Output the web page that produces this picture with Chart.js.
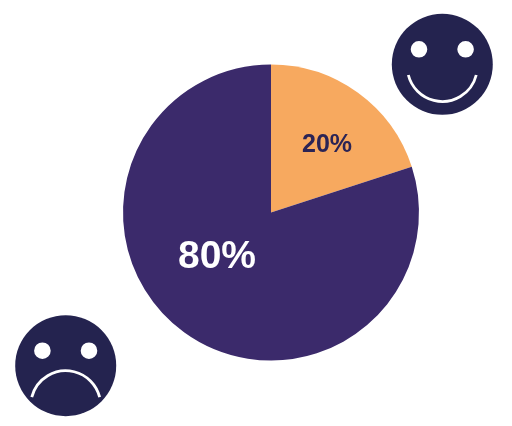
<!DOCTYPE html>
<html>
<head>
<meta charset="utf-8">
<title>Pie</title>
<style>
  html, body { margin: 0; padding: 0; background: #fff; }
  canvas { display: block; }
</style>
<script src="https://cdn.jsdelivr.net/npm/chart.js@4/dist/chart.umd.min.js"></script>
</head>
<body>
<canvas id="chart-pie" width="512" height="426"></canvas>
<script>
var categories = ["happy", "unhappy"];
var values = [20, 80];
var sliceLabels = ["20%", "80%"];
var sliceColors = ["#f7a95f", "#3b2a6b"];

// label offset from the pie centre, per slice
var labelStyle = [
  { dx: 56, dy: -67, font: "bold 25px 'Liberation Sans'", color: "#2b2455" },
  { dx: -54, dy: 45, font: "bold 39px 'Liberation Sans'", color: "#ffffff" }
];

// 笑脸/哭脸
function drawFace(ctx, x, y, sad) {
  ctx.save();
  ctx.fillStyle = "#24234f";
  ctx.beginPath();
  ctx.arc(x, y, 50.5, 0, Math.PI * 2);
  ctx.fill();
  ctx.fillStyle = "#ffffff";
  ctx.beginPath();
  ctx.arc(x - 23.3, y - 15, 8.3, 0, Math.PI * 2);
  ctx.arc(x + 23.3, y - 15, 8.3, 0, Math.PI * 2);
  ctx.fill();
  ctx.strokeStyle = "#ffffff";
  ctx.lineWidth = 2.8;
  ctx.beginPath();
  if (sad) {
    ctx.arc(x, y + 40, 35, Math.PI * 1.078, Math.PI * 1.922);
  } else {
    ctx.arc(x, y + 2.2, 35, Math.PI * 0.078, Math.PI * 0.922);
  }
  ctx.stroke();
  ctx.restore();
}

var decorations = {
  id: "decorations",
  afterDraw: function(chart) {
    var ctx = chart.ctx;
    var arc = chart.getDatasetMeta(0).data[0];
    ctx.save();
    ctx.textAlign = "center";
    ctx.textBaseline = "middle";
    sliceLabels.forEach(function(text, i) {
      ctx.font = labelStyle[i].font;
      ctx.fillStyle = labelStyle[i].color;
      ctx.fillText(text, arc.x + labelStyle[i].dx, arc.y + labelStyle[i].dy);
    });
    ctx.restore();
    drawFace(ctx, 442.3, 64.3, false);
    drawFace(ctx, 65.7, 365.7, true);
  }
};

new Chart(document.getElementById("chart-pie").getContext("2d"), {
  type: "pie",
  data: {
    labels: categories,
    datasets: [{ data: values, backgroundColor: sliceColors, borderWidth: 0 }]
  },
  options: {
    responsive: false,
    animation: false,
    layout: { padding: { left: 123, right: 93, top: 64.5, bottom: 65.5 } },
    plugins: { legend: { display: false }, tooltip: { enabled: false } }
  },
  plugins: [decorations]
});
</script>
</body>
</html>
